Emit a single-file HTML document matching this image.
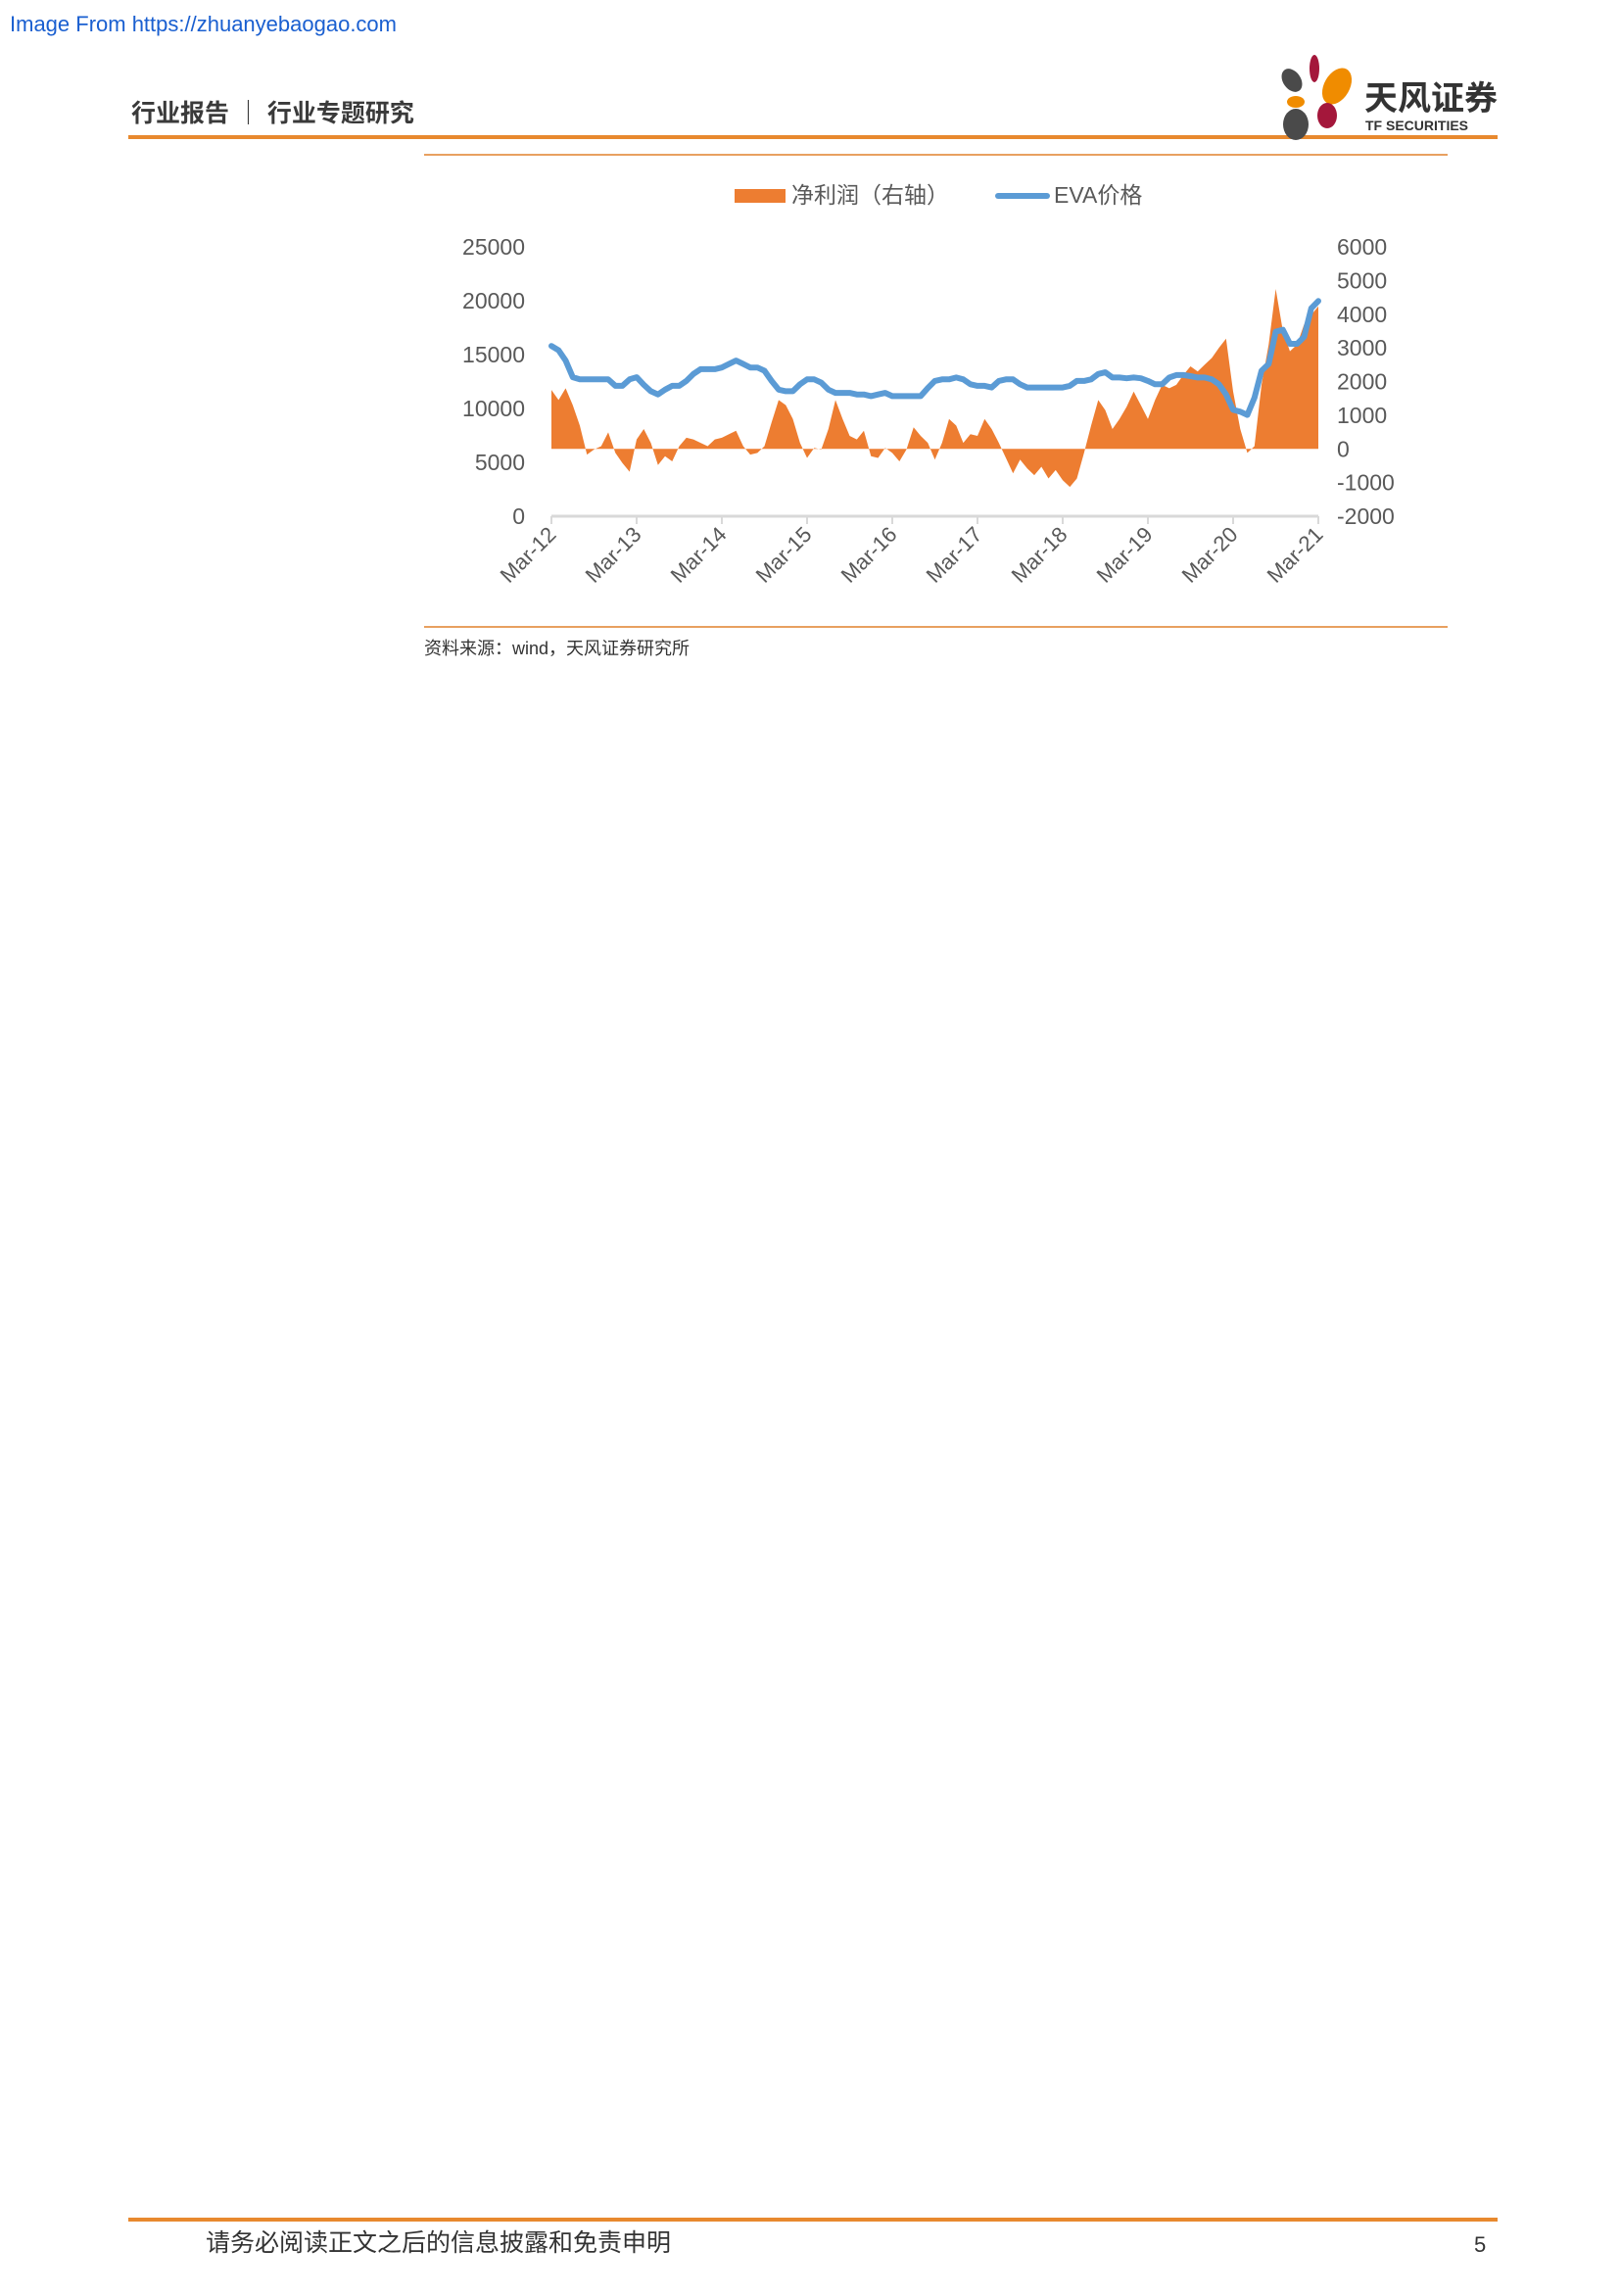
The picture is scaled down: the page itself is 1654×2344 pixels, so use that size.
<!DOCTYPE html>
<html><head><meta charset="utf-8">
<style>
html,body{margin:0;padding:0;background:#fff;}
body{width:1654px;height:2339px;position:relative;overflow:hidden;font-family:"Liberation Sans","Noto Sans CJK SC",sans-serif;}
svg text{font-family:"Liberation Sans","Noto Sans CJK SC",sans-serif;}
</style></head>
<body>
<svg id="page" width="1654" height="2339" viewBox="0 0 1654 2339" xmlns="http://www.w3.org/2000/svg">
  <text x="10" y="32" font-size="22" fill="#1a5fd0">Image From https://zhuanyebaogao.com</text>
  <text x="134" y="124" font-size="25" font-weight="bold" fill="#3a3a3a">行业报告 ｜ 行业专题研究</text>
  <rect x="131" y="138" width="1398" height="4" fill="#e8892e"/>
  <g>
    <ellipse cx="1342" cy="70" rx="5" ry="14" fill="#a4173b"/>
    <ellipse cx="1319" cy="82" rx="9" ry="13" fill="#4a4a4a" transform="rotate(-35 1319 82)"/>
    <ellipse cx="1365" cy="88" rx="13" ry="20" fill="#f08c00" transform="rotate(30 1365 88)"/>
    <ellipse cx="1323" cy="104" rx="9" ry="6" fill="#f08c00"/>
    <ellipse cx="1355" cy="118" rx="10" ry="13" fill="#a4173b"/>
    <ellipse cx="1323" cy="127" rx="13" ry="16" fill="#4a4a4a"/>
    <text x="1393" y="112" font-size="34" font-weight="bold" fill="#333">天风证券</text>
    <text x="1394" y="133" font-size="14" font-weight="bold" fill="#333">TF SECURITIES</text>
  </g>
  <rect x="433" y="157" width="1045" height="2" fill="#e8a060"/>
  <g>
    <rect x="750" y="193" width="52" height="14" fill="#ED7D31"/>
    <text x="808" y="207" font-size="23" fill="#595959">净利润（右轴）</text>
    <rect x="1016" y="197" width="56" height="6" rx="3" fill="#5B9BD5"/>
    <text x="1076" y="207" font-size="23" fill="#595959">EVA价格</text>
  </g>
  <g id="chart"></g>
  <rect x="433" y="639" width="1045" height="2" fill="#e8a060"/>
  <text x="433" y="668" font-size="18" fill="#333">资料来源：wind，天风证券研究所</text>
  <rect x="131" y="2264" width="1398" height="4" fill="#e8892e"/>
  <text x="210" y="2298" font-size="25" fill="#333">请务必阅读正文之后的信息披露和免责申明</text>
  <text x="1505" y="2299" font-size="22" fill="#333">5</text>
</svg>
<script>
const yearLabels = ["Mar-12","Mar-13","Mar-14","Mar-15","Mar-16","Mar-17","Mar-18","Mar-19","Mar-20","Mar-21"];
const leftTicks = [0,5000,10000,15000,20000,25000];
const rightTicks = [-2000,-1000,0,1000,2000,3000,4000,5000,6000];
const evaPrice = [
15800,15400,14450,12900,12700,12700,12700,12700,12700,12100,
12100,12700,12900,12200,11600,11300,11750,12100,12100,12550,13200,13650,
13650,13650,13800,14130,14450,14130,13800,13800,13500,12550,11750,11600,
11600,12250,12700,12700,12400,11750,11450,11450,11450,11300,11300,11150,
11300,11450,11150,11150,11150,11150,11150,11900,12550,12700,12700,12870,
12700,12250,12100,12100,11950,12550,12700,12700,12250,11950,11950,11950,
11950,11950,11950,12100,12550,12550,12700,13200,13350,12870,12870,12800,
12870,12800,12550,12250,12250,12870,13100,13100,13000,12870,12870,12700,
12250,11300,9870,9700,9400,11000,13500,14130,17130,17300,16000,16000,
16650,19300,19970];
const netProfit = [
1750,1450,1800,1300,690,-170,-20,80,490,-120,
-420,-680,280,590,180,-480,-220,-370,80,330,280,180,
80,280,330,435,540,80,-170,-120,80,790,1450,1300,
890,180,-270,30,-20,590,1450,890,385,280,540,-220,
-270,30,-120,-370,-20,640,385,180,-320,180,890,690,
180,435,385,890,590,180,-270,-730,-320,-580,-780,-530,
-880,-630,-930,-1130,-880,-120,690,1450,1150,590,890,1250,
1700,1300,890,1450,1900,1800,1900,2200,2450,2300,2500,2700,
3000,3270,1700,590,-120,80,1900,3100,4750,3500,2900,3100,
3700,3980,4230];

const NS="http://www.w3.org/2000/svg";
const g=document.getElementById('chart');
const X0=563,X1=1346,YT=252,YB=527;
const n=evaPrice.length;
const xs=i=>X0+(X1-X0)*i/(n-1);
const yL=v=>YB-(YB-YT)*v/25000;
const yR=v=>YB-(YB-YT)*(v+2000)/8000;
function mk(tag,attrs){const e=document.createElementNS(NS,tag);for(const k in attrs)e.setAttribute(k,attrs[k]);g.appendChild(e);return e;}

let d=`M${xs(0)},${yR(0)}`;
netProfit.forEach((v,i)=>{d+=` L${xs(i).toFixed(1)},${yR(v).toFixed(1)}`;});
d+=` L${xs(n-1)},${yR(0)} Z`;
const area=mk('path',{d:d,fill:'#ED7D31'});



const ax=mk('line',{x1:X0,y1:YB,x2:X1,y2:YB,stroke:'#d9d9d9','stroke-width':3});


yearLabels.forEach((lab,k)=>{
  const x=xs(k*12);
  const t=mk('line',{x1:x,y1:YB,x2:x,y2:YB+8,stroke:'#d9d9d9','stroke-width':2});
  
  
  const tx=mk('text',{x:x+6,y:YB+20,'font-size':22,fill:'#595959','text-anchor':'end',transform:`rotate(-45 ${x+6} ${YB+20})`});
  tx.textContent=lab;
  
  
});
leftTicks.forEach(v=>{
  const t=mk('text',{x:536,y:yL(v)+8,'font-size':23,fill:'#595959','text-anchor':'end'});
  t.textContent=v;
  
  
});
rightTicks.forEach(v=>{
  const t=mk('text',{x:1365,y:yR(v)+8,'font-size':23,fill:'#595959'});
  t.textContent=v;
  
  
});

let p='';
evaPrice.forEach((v,i)=>{p+=(i?' L':'M')+xs(i).toFixed(1)+','+yL(v).toFixed(1);});
const line=mk('path',{d:p,fill:'none',stroke:'#5B9BD5','stroke-width':6,'stroke-linejoin':'round','stroke-linecap':'round'});


</script>
</body></html>
